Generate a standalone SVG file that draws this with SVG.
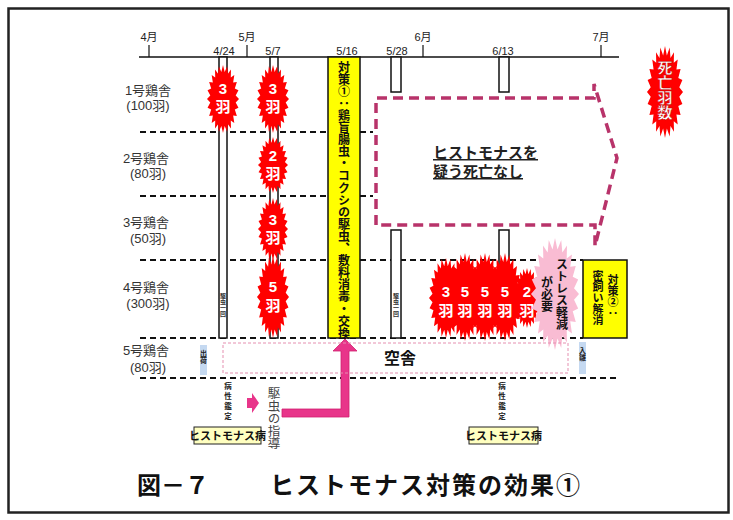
<svg xmlns="http://www.w3.org/2000/svg" xmlns:xlink="http://www.w3.org/1999/xlink" width="733" height="520" viewBox="0 0 733 520">
<style>
.lbl{font-family:"Liberation Sans","Noto Sans CJK JP",sans-serif;font-size:13px;fill:#333;text-anchor:middle}
.tl{font-family:"Liberation Sans","Noto Sans CJK JP",sans-serif;font-size:11px;fill:#222;text-anchor:middle}
.row{stroke:#111;stroke-width:2;stroke-dasharray:6 4;fill:none}
.bar{fill:#fff;stroke:#111;stroke-width:1.5}
.bt{font-family:"Liberation Sans","Noto Sans CJK JP",sans-serif;font-size:15px;font-weight:bold;fill:#fff;text-anchor:middle;dominant-baseline:central}
.vt{font-family:"Noto Sans CJK JP",sans-serif;writing-mode:vertical-rl;font-weight:bold}
.burst{fill:#ff0000}
</style>
<defs>
<path id="burst" d="M100,0 L79.3,10.4 96.6,25.9 73.9,30.6 86.6,50 63.5,48.7 70.7,70.7 48.7,63.5 50,86.6 30.6,73.9 25.9,96.6 10.4,79.3 0,100 -10.4,79.3 -25.9,96.6 -30.6,73.9 -50,86.6 -48.7,63.5 -70.7,70.7 -63.5,48.7 -86.6,50 -73.9,30.6 -96.6,25.9 -79.3,10.4 -100,0 -79.3,-10.4 -96.6,-25.9 -73.9,-30.6 -86.6,-50 -63.5,-48.7 -70.7,-70.7 -48.7,-63.5 -50,-86.6 -30.6,-73.9 -25.9,-96.6 -10.4,-79.3 0,-100 10.4,-79.3 25.9,-96.6 30.6,-73.9 50,-86.6 48.7,-63.5 70.7,-70.7 63.5,-48.7 86.6,-50 73.9,-30.6 96.6,-25.9 79.3,-10.4 Z"/>
</defs>
<rect x="0" y="0" width="733" height="520" fill="#fff"/>
<rect x="8.5" y="8.5" width="720" height="504" fill="none" stroke="#222" stroke-width="2.5"/>

<g id="timeline">
<line x1="139" y1="57" x2="619" y2="57" stroke="#111" stroke-width="1.5"/>
<line x1="149" y1="45" x2="149" y2="57" stroke="#111" stroke-width="1.2"/>
<line x1="247" y1="45" x2="247" y2="57" stroke="#111" stroke-width="1.2"/>
<line x1="423" y1="45" x2="423" y2="57" stroke="#111" stroke-width="1.2"/>
<line x1="601" y1="45" x2="601" y2="57" stroke="#111" stroke-width="1.2"/>
<text class="tl" x="149" y="41" font-size="10">4月</text>
<text class="tl" x="247" y="41" font-size="10">5月</text>
<text class="tl" x="423" y="41" font-size="10">6月</text>
<text class="tl" x="601" y="41" font-size="10">7月</text>
<text class="tl" x="224" y="55">4/24</text>
<text class="tl" x="273" y="55">5/7</text>
<text class="tl" x="347" y="55">5/16</text>
<text class="tl" x="397" y="55">5/28</text>
<text class="tl" x="503" y="55">6/13</text>
</g>

<g id="rows">
<line class="row" x1="140" y1="132" x2="373" y2="132"/>
<line class="row" x1="140" y1="196" x2="373" y2="196"/>
<line class="row" x1="140" y1="260" x2="583" y2="260"/>
<line class="row" x1="140" y1="338" x2="583" y2="338"/>
<line class="row" x1="140" y1="378" x2="620" y2="378"/>
<text class="lbl" x="148" y="95">1号鶏舎</text>
<text class="lbl" x="148" y="110">(100羽)</text>
<text class="lbl" x="146" y="163">2号鶏舎</text>
<text class="lbl" x="148" y="178">(80羽)</text>
<text class="lbl" x="146" y="227">3号鶏舎</text>
<text class="lbl" x="148" y="243">(50羽)</text>
<text class="lbl" x="146" y="292">4号鶏舎</text>
<text class="lbl" x="148" y="308">(300羽)</text>
<text class="lbl" x="146" y="355">5号鶏舎</text>
<text class="lbl" x="148" y="372">(80羽)</text>
</g>

<g id="bar-0424">
<rect class="bar" x="219" y="57" width="8" height="281"/>
<text class="vt" x="223" y="293" font-size="6" fill="#333" font-weight="normal">駆虫一回</text>
</g>
<g id="bar-0507">
<rect class="bar" x="270" y="57" width="8" height="281"/>
</g>
<g id="bar-0528">
<rect class="bar" x="391" y="57" width="10" height="35"/>
<rect class="bar" x="391" y="230" width="10" height="108"/>
<text class="vt" x="396" y="293" font-size="6" fill="#333" font-weight="normal">駆虫一回</text>
</g>
<g id="bar-0613">
<rect class="bar" x="499" y="57" width="10" height="35"/>
<rect class="bar" x="499" y="230" width="10" height="40"/>
</g>

<g id="measure1">
<rect x="328" y="57" width="32" height="281" fill="#ffff00" stroke="#111" stroke-width="1.5"/>
<text class="vt" x="344" y="61" font-size="12" fill="#111" letter-spacing="0.1">対策①：鶏盲腸虫・コクシの駆虫、敷料消毒・交換</text>
</g>

<g id="connectors">
<path d="M376,225 L376,98 L594,98 L594,84 L617,158 L595,246 L595,225 Z" fill="#fff" stroke="#b8336a" stroke-width="3.5" stroke-dasharray="10 6"/>
<path d="M282,409 L341,409 L341,351 L333,351 L345,339 L357,351 L349,351 L349,417 L282,417 Z" fill="#e8358a" stroke="#d0206f" stroke-width="0.8"/>
<path d="M247,398 L252,398 L252,393 L259,403 L252,413 L252,408 L247,408 Z" fill="#e8358a"/>
</g>

<g id="no-death-text">
<text font-family="Noto Sans CJK JP,sans-serif" font-size="15" font-weight="bold" fill="#222" text-decoration="underline"><tspan x="433" y="158">ヒストモナスを</tspan><tspan x="433" y="177">疑う死亡なし</tspan></text>
</g>

<g id="burst-r1-0424">
<use xlink:href="#burst" class="burst" transform="translate(223,99) scale(0.16,0.34)"/>
<text class="bt" x="223" y="88">3</text><text class="bt" x="223" y="106">羽</text>
</g>
<g id="burst-r1-0507">
<use xlink:href="#burst" class="burst" transform="translate(273,99) scale(0.16,0.34)"/>
<text class="bt" x="273" y="88">3</text><text class="bt" x="273" y="106">羽</text>
</g>
<g id="burst-r2-0507">
<use xlink:href="#burst" class="burst" transform="translate(273,165) scale(0.15,0.28)"/>
<text class="bt" x="273" y="155">2</text><text class="bt" x="273" y="173">羽</text>
</g>
<g id="burst-r3-0507">
<use xlink:href="#burst" class="burst" transform="translate(273,229) scale(0.15,0.31)"/>
<text class="bt" x="273" y="219">3</text><text class="bt" x="273" y="237">羽</text>
</g>
<g id="burst-r4-0507">
<use xlink:href="#burst" class="burst" transform="translate(273,297) scale(0.16,0.41)"/>
<text class="bt" x="273" y="286">5</text><text class="bt" x="273" y="305">羽</text>
</g>

<g id="burst-r4-0613">
<use xlink:href="#burst" class="burst" transform="translate(446,298) scale(0.17,0.40)"/>
<use xlink:href="#burst" class="burst" transform="translate(465,297) scale(0.17,0.44)"/>
<use xlink:href="#burst" class="burst" transform="translate(485,297) scale(0.17,0.44)"/>
<use xlink:href="#burst" class="burst" transform="translate(505,297) scale(0.17,0.44)"/>
<use xlink:href="#burst" class="burst" transform="translate(527,298) scale(0.14,0.30)"/>
<text class="bt" x="446" y="291">3</text><text class="bt" x="446" y="310">羽</text>
<text class="bt" x="465" y="291">5</text><text class="bt" x="465" y="310">羽</text>
<text class="bt" x="485" y="291">5</text><text class="bt" x="485" y="310">羽</text>
<text class="bt" x="505" y="291">5</text><text class="bt" x="505" y="310">羽</text>
<text class="bt" x="527" y="291">2</text><text class="bt" x="527" y="310">羽</text>
</g>

<g id="stress">
<use xlink:href="#burst" fill="#f9bcd3" transform="translate(555,294) scale(0.24,0.56)"/>
<text class="vt" x="562" y="258" font-size="12" fill="#111">ストレス軽減</text>
<text class="vt" x="547" y="276" font-size="12" fill="#111">が必要</text>
</g>

<g id="measure2">
<rect x="583" y="260" width="44" height="78" fill="#ffff00" stroke="#111" stroke-width="1.5"/>
<text class="vt" x="613" y="274" font-size="11" fill="#111">対策②：</text>
<text class="vt" x="598" y="270" font-size="11" fill="#111">密飼い解消</text>
</g>

<g id="legend-death">
<use xlink:href="#burst" class="burst" transform="translate(665,92) scale(0.18,0.46)"/>
<text class="vt" x="665" y="60" font-size="15" fill="#fff" stroke="#b00000" stroke-width="0.4">死亡羽数</text>
</g>

<g id="row5">
<rect x="200" y="345" width="7" height="30" fill="#c5d9f1"/>
<text class="vt" x="203.5" y="350" font-size="7" fill="#222">出荷</text>
<rect x="223" y="343" width="345" height="30" fill="none" stroke="#e58fb0" stroke-width="1" stroke-dasharray="3 2"/>
<text x="400" y="364" font-family="Noto Sans CJK JP,sans-serif" font-size="16" font-weight="bold" fill="#111" text-anchor="middle">空舎</text>
<rect x="579" y="342" width="7" height="32" fill="#c5d9f1"/>
<text class="vt" x="582.5" y="347" font-size="7" fill="#222">入雛</text>
</g>

<g id="diagnosis1">
<text class="vt" x="228" y="382" font-size="7.5" fill="#222" letter-spacing="2.5">病性鑑定</text>
<rect x="194" y="427" width="67" height="17" fill="#ffffc0" stroke="#222" stroke-width="1"/>
<text x="227.5" y="440" font-family="Noto Sans CJK JP,sans-serif" font-size="11" font-weight="bold" fill="#111" text-anchor="middle">ヒストモナス病</text>
</g>
<g id="guidance">
<text x="274" y="387" font-family="Noto Sans CJK JP,sans-serif" font-size="12.5" fill="#444" style="writing-mode:vertical-rl">駆虫の指導</text>
</g>
<g id="diagnosis2">
<text class="vt" x="502" y="382" font-size="7.5" fill="#222" letter-spacing="2.5">病性鑑定</text>
<rect x="469" y="427" width="69" height="17" fill="#ffffc0" stroke="#222" stroke-width="1"/>
<text x="503.5" y="440" font-family="Noto Sans CJK JP,sans-serif" font-size="11" font-weight="bold" fill="#111" text-anchor="middle">ヒストモナス病</text>
</g>

<g id="title">
<text font-family="Noto Sans CJK JP,sans-serif" font-size="24" font-weight="bold" fill="#111"><tspan x="137" y="494">図－７</tspan><tspan x="270" y="494" letter-spacing="2">ヒストモナス対策の効果①</tspan></text>
</g>
</svg>
